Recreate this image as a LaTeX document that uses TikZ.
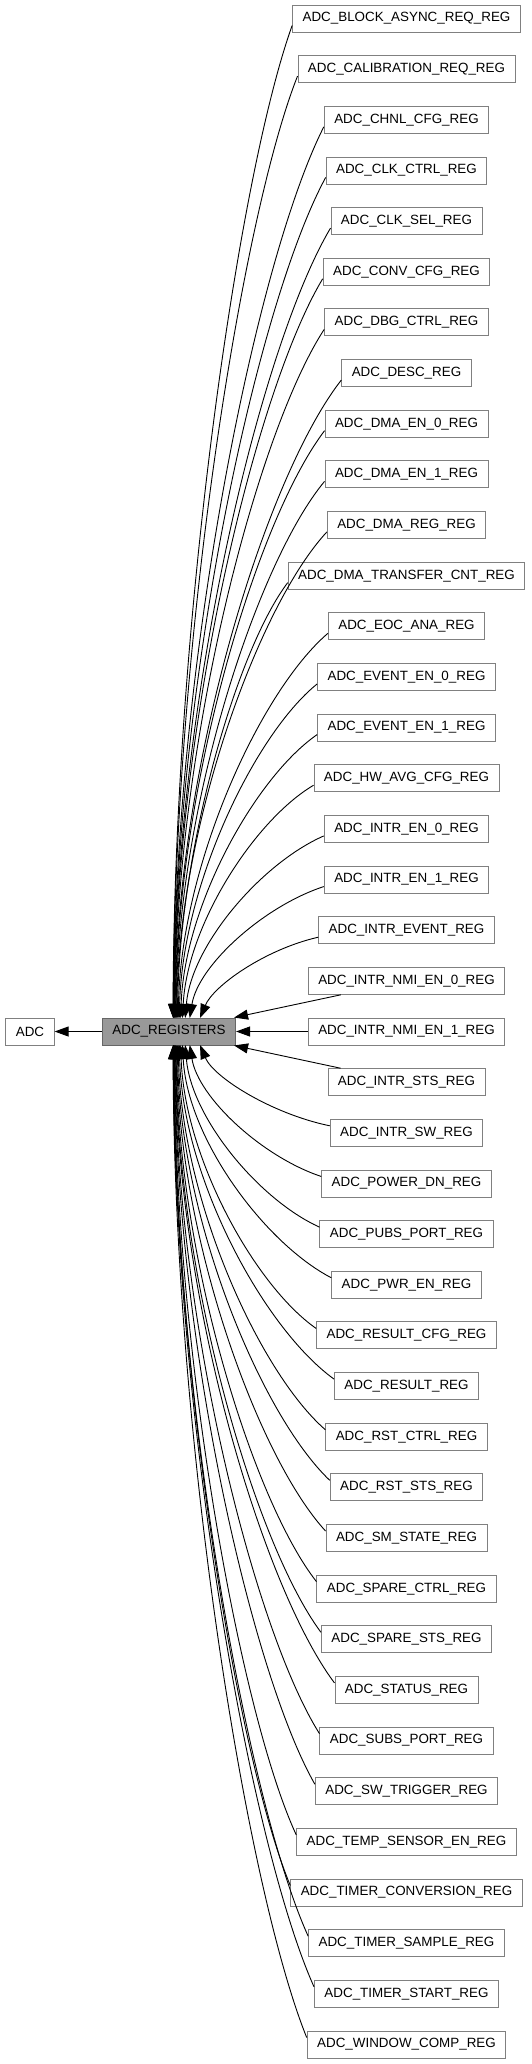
\documentclass[tikz,border=0pt]{standalone}
\usepackage{fontspec}
\setmainfont{Liberation Sans}
\usepackage{xcolor}
\usetikzlibrary{arrows.meta,calc}
\definecolor{boxline}{HTML}{808080}
\definecolor{curfill}{HTML}{999999}
\definecolor{curline}{HTML}{666666}

\tikzset{
  regbox/.style={draw=boxline, fill=white, line width=0.9pt, minimum height=27pt,
                 inner xsep=10pt, inner ysep=0pt, font=\fontsize{13.4}{16}\selectfont},
  curbox/.style={regbox, draw=curline, fill=curfill},
  edge/.style={line width=0.9pt, -{Triangle[length=14pt, width=10pt]}}
}

\begin{document}
\begin{tikzpicture}[x=1pt, y=1pt]
  \useasboundingbox (0,0) rectangle (531,-2064);
  \node[regbox] (adc) at (30,-1031.5) {ADC};
  \node[curbox] (regs) at (169,-1031.5) {ADC\_REGISTERS};
  % register nodes, one row each
  \foreach \name [count=\i from 0] in {BLOCK\_ASYNC\_REQ, CALIBRATION\_REQ, CHNL\_CFG,
      CLK\_CTRL, CLK\_SEL, CONV\_CFG, DBG\_CTRL, DESC, DMA\_EN\_0, DMA\_EN\_1, DMA\_REG,
      DMA\_TRANSFER\_CNT, EOC\_ANA, EVENT\_EN\_0, EVENT\_EN\_1, HW\_AVG\_CFG, INTR\_EN\_0,
      INTR\_EN\_1, INTR\_EVENT, INTR\_NMI\_EN\_0, INTR\_NMI\_EN\_1, INTR\_STS, INTR\_SW,
      POWER\_DN, PUBS\_PORT, PWR\_EN, RESULT\_CFG, RESULT, RST\_CTRL, RST\_STS, SM\_STATE,
      SPARE\_CTRL, SPARE\_STS, STATUS, SUBS\_PORT, SW\_TRIGGER, TEMP\_SENSOR\_EN,
      TIMER\_CONVERSION, TIMER\_SAMPLE, TIMER\_START, WINDOW\_COMP}
    \node[regbox] (r\i) at (406.5,{-18.5-50.65*\i}) {ADC\_\name\_REG};
  % upper edges into the top of ADC_REGISTERS
  \foreach \i in {0,...,18} {
    \pgfmathsetmacro\xt{165+35/sqrt(19-\i)}
    \pgfmathsetmacro\dy{1018-25.5-50.65*\i}
    \draw[edge] let \p1 = ([yshift=-7pt]r\i.west) in
      (\p1) .. controls ({\x1-0.45*(\x1-\xt)},{\y1-0.15*\dy})
               and ({\xt+1100/\dy},{-1018+0.4*\dy}) .. (\xt,-1018);
  }
  % lower edges into the bottom
  \foreach \i in {22,...,40} {
    \pgfmathsetmacro\xt{165+35/sqrt(\i-21)}
    \pgfmathsetmacro\dy{11.5+50.65*\i-1045}
    \draw[edge] let \p1 = ([yshift=7pt]r\i.west) in
      (\p1) .. controls ({\x1-0.45*(\x1-\xt)},{\y1+0.15*\dy})
               and ({\xt+1100/\dy},{-1045-0.4*\dy}) .. (\xt,-1045);
  }
  \draw[edge] ([xshift=33pt]r19.south west) -- ([xshift=-2pt]regs.north east);
  \draw[edge] (r20.west) -- (regs.east);
  \draw[edge] ([xshift=13pt]r21.north west) -- ([xshift=-2pt]regs.south east);
  \draw[edge] (regs.west) -- (adc.east);
\end{tikzpicture}
\end{document}
